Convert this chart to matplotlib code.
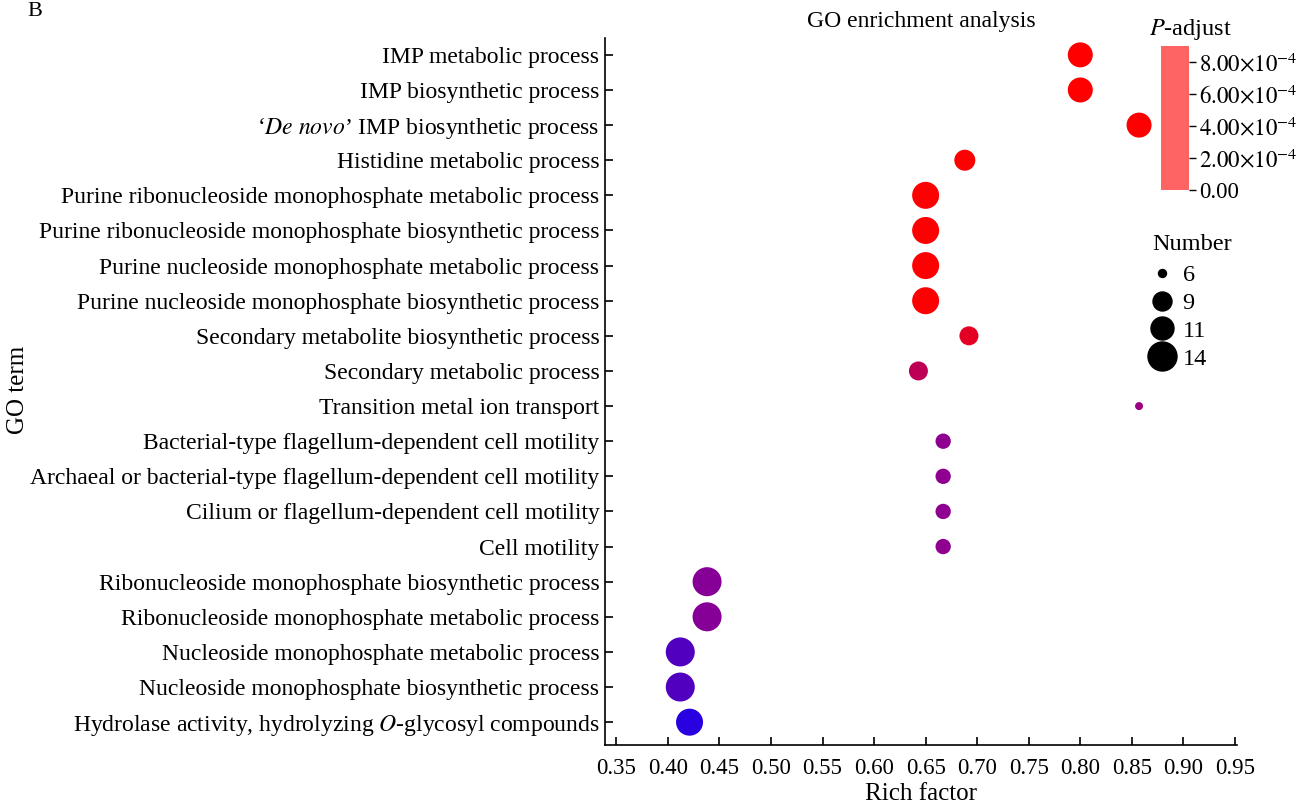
import numpy as np
import matplotlib
matplotlib.use("Agg")
import matplotlib.pyplot as plt
from matplotlib.colors import LinearSegmentedColormap, ListedColormap, Normalize
from matplotlib.lines import Line2D
import matplotlib.cm as cm

plt.rcParams['font.family'] = ['Liberation Serif', 'DejaVu Serif']
plt.rcParams['mathtext.fontset'] = 'stix'

terms = [
    "IMP metabolic process",
    "IMP biosynthetic process",
    "\u2018$\\it{De\\ novo}$\u2019 IMP biosynthetic process",
    "Histidine metabolic process",
    "Purine ribonucleoside monophosphate metabolic process",
    "Purine ribonucleoside monophosphate biosynthetic process",
    "Purine nucleoside monophosphate metabolic process",
    "Purine nucleoside monophosphate biosynthetic process",
    "Secondary metabolite biosynthetic process",
    "Secondary metabolic process",
    "Transition metal ion transport",
    "Bacterial-type flagellum-dependent cell motility",
    "Archaeal or bacterial-type flagellum-dependent cell motility",
    "Cilium or flagellum-dependent cell motility",
    "Cell motility",
    "Ribonucleoside monophosphate biosynthetic process",
    "Ribonucleoside monophosphate metabolic process",
    "Nucleoside monophosphate metabolic process",
    "Nucleoside monophosphate biosynthetic process",
    "Hydrolase activity, hydrolyzing $\\it{O}$-glycosyl compounds",
]
rich_factor = [0.800, 0.800, 0.857, 0.688, 0.650, 0.650, 0.650, 0.650, 0.692, 0.643,
               0.857, 0.667, 0.667, 0.667, 0.667, 0.438, 0.438, 0.412, 0.412, 0.421]
counts = [12, 12, 12, 10, 13, 13, 13, 13, 9, 9,
          6, 8, 8, 8, 8, 14, 14, 14, 14, 13]
p_adjust = [0.0e-4, 0.0e-4, 0.1e-4, 0.1e-4, 0.1e-4, 0.1e-4, 0.1e-4, 0.1e-4, 1.1e-4, 2.7e-4,
            4.0e-4, 4.5e-4, 4.5e-4, 4.5e-4, 4.5e-4, 4.8e-4, 4.8e-4, 6.4e-4, 6.4e-4, 7.7e-4]

legend_counts = [6, 9, 11, 14]
legend_diam_px = [8, 19, 23, 29]
cbar_ticks = [0.0, 2e-4, 4e-4, 6e-4, 8e-4]
x_ticks = [0.35, 0.40, 0.45, 0.50, 0.55, 0.60, 0.65, 0.70, 0.75, 0.80, 0.85, 0.90, 0.95]

W, H, DPI = 1308, 805, 100
fig = plt.figure(figsize=(W / DPI, H / DPI), dpi=DPI)
ax = fig.add_axes([605 / W, 1 - 745 / H, (1237 - 605) / W, (745 - 38) / H])

def diam_pt(n):
    return np.interp(n, legend_counts, legend_diam_px) * 72 / DPI

cmap = LinearSegmentedColormap.from_list("rb", ["#ff0000", "#900090", "#0000ff"])
norm = Normalize(vmin=0, vmax=9e-4)

y = np.arange(len(terms))
sizes = [diam_pt(c) ** 2 for c in counts]
ax.scatter(rich_factor, y, s=sizes, c=p_adjust, cmap=cmap, norm=norm, linewidths=0, zorder=3)

ax.set_ylim(len(terms) - 1 + 0.65, -0.48)
ax.set_xlim(0.339, 0.952)
ax.set_yticks(y)
ax.set_yticklabels(terms, fontsize=17)
ax.set_xticks(x_ticks)
ax.set_xticklabels([f"{v:.2f}" for v in x_ticks], fontsize=16.5)
for s in ["top", "right"]:
    ax.spines[s].set_visible(False)
for s in ["left", "bottom"]:
    ax.spines[s].set_linewidth(1.2)
ax.tick_params(axis="both", direction="in", length=6, width=1.2, colors="black")
ax.tick_params(axis="y", pad=4)
ax.tick_params(axis="x", pad=9)
ax.set_xlabel("Rich factor", fontsize=18, labelpad=3)
ax.set_title("GO enrichment analysis", fontsize=17, pad=8)

fig.text(18 / W, 1 - 390 / H, "GO term", fontsize=18, rotation=90, ha="center", va="center")
fig.text(27 / W, 1 - 12 / H, "B", fontsize=16, va="center", ha="left")

# colorbar (rendered as single flat colour as in the reference)
cax = fig.add_axes([1161 / W, 1 - 190 / H, 28 / W, 144 / H])
sm = cm.ScalarMappable(norm=norm, cmap=ListedColormap(["#ff6464"]))
cb = fig.colorbar(sm, cax=cax, ticks=cbar_ticks)
cb.outline.set_visible(False)
cb.ax.tick_params(length=5, width=1, labelsize=16.5, pad=2)
labels = ["0.00"] + [f"${v*1e4:.2f}{{\\times}}10^{{-4}}$" for v in cbar_ticks[1:]]
cb.ax.set_yticklabels(labels)
fig.text(1190 / W, 1 - 29 / H, "$\\it{P}$-adjust", fontsize=17.5, ha="center", va="center")

fig.text(1192 / W, 1 - 244 / H, "Number", fontsize=17.5, ha="center", va="center")
handles = [Line2D([], [], linestyle="none", marker="o", color="black",
                  markersize=diam_pt(c)) for c in legend_counts]
leg = fig.legend(handles, [str(c) for c in legend_counts],
                 loc="upper left", bbox_to_anchor=(1134 / W, 1 - 252 / H),
                 frameon=False, fontsize=17.5,
                 handletextpad=0.2, labelspacing=0.24, handlelength=1.3,
                 borderpad=0)

fig.savefig("out.png", dpi=DPI)
